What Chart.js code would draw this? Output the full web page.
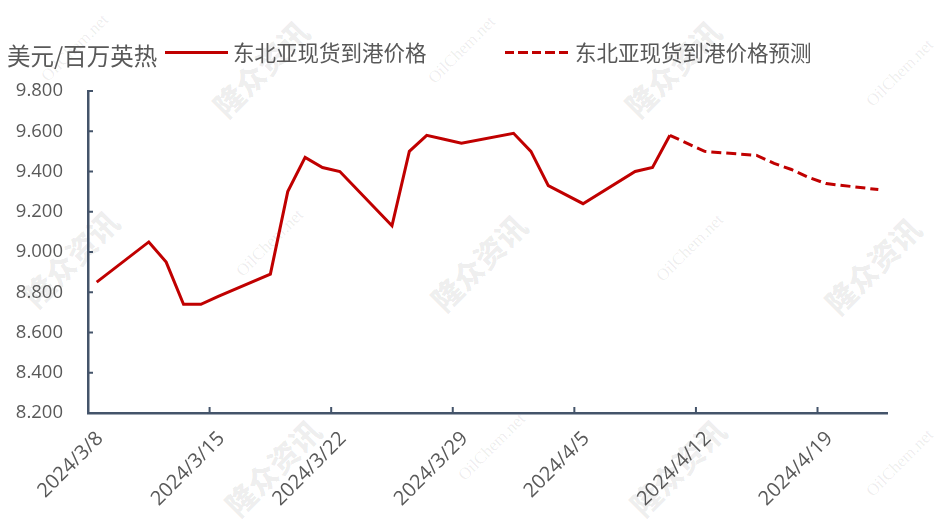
<!DOCTYPE html>
<html>
<head>
<meta charset="utf-8">
<script src="https://cdn.jsdelivr.net/npm/chart.js@4.4.1/dist/chart.umd.min.js"></script>
<style>
    html, body { margin: 0; padding: 0; background: #fff; }
    #wrap { position: relative; width: 940px; height: 531px; overflow: hidden; }
    #marks { position: absolute; left: 0; top: 0; width: 940px; height: 531px; pointer-events: none; }
    .wm { position: absolute; white-space: nowrap; transform: translate(-50%, -50%) rotate(-45deg); }
    .wm-cn { font-family: 'Noto Sans CJK SC', sans-serif; font-weight: 900; font-size: 30px; color: rgba(0,0,0,0.075); }
    .wm-en { font-family: 'Liberation Serif', serif; font-size: 17px; color: rgba(0,0,0,0.08); }
    #chartBox { position: absolute; left: 0; top: 0; width: 940px; height: 531px; }
    .txt { position: absolute; font-family: 'Noto Sans CJK SC', sans-serif; color: #595959; white-space: nowrap; line-height: 1; }
    .sample { position: absolute; height: 3px; }
</style>
</head>
<body>
<div id="wrap">
    <div id="marks"></div>
    <div id="chartBox"><canvas id="lngChart" width="940" height="531"></canvas></div>
    <div class="txt" style="left:7px; top:44px; font-size:23.5px;">美元/百万英热</div>
    <div class="sample" style="left:165px; top:51px; width:63px; background:#c00000;"></div>
    <div class="txt" style="left:233px; top:41px; font-size:21.5px;">东北亚现货到港价格</div>
    <div class="sample" style="left:505px; top:51px; width:63px; background:repeating-linear-gradient(to right, #c00000 0 9.5px, transparent 9.5px 13.4px);"></div>
    <div class="txt" style="left:575px; top:41px; font-size:21.5px;">东北亚现货到港价格预测</div>
</div>
<script>
// actual spot prices (USD/MMBtu)
const actualDates = ['2024-03-08', '2024-03-11', '2024-03-12', '2024-03-13', '2024-03-14', '2024-03-15',
    '2024-03-18', '2024-03-19', '2024-03-20', '2024-03-21', '2024-03-22',
    '2024-03-25', '2024-03-26', '2024-03-27', '2024-03-28', '2024-03-29',
    '2024-04-01', '2024-04-02', '2024-04-03', '2024-04-05',
    '2024-04-08', '2024-04-09', '2024-04-10'];
const actualValues = [8.85, 9.05, 8.95, 8.74, 8.74, 8.78,
    8.89, 9.30, 9.47, 9.42, 9.40,
    9.13, 9.50, 9.58, 9.56, 9.54,
    9.59, 9.50, 9.33, 9.24,
    9.40, 9.42, 9.58];

// forecast
const forecastDates = ['2024-04-10', '2024-04-11', '2024-04-12', '2024-04-15', '2024-04-16',
    '2024-04-17', '2024-04-18', '2024-04-19', '2024-04-22'];
const forecastValues = [9.58, 9.54, 9.50, 9.48, 9.44, 9.41, 9.37, 9.34, 9.31];

const xTickDates = ['2024-03-08', '2024-03-15', '2024-03-22', '2024-03-29', '2024-04-05', '2024-04-12', '2024-04-19'];
const xEndDate = '2024-04-23';
const yTickValues = [8.2, 8.4, 8.6, 8.8, 9.0, 9.2, 9.4, 9.6, 9.8];

const lineColor = '#c00000';
const axisColor = '#44546a';
const labelColor = '#595959';

function dayStart(d) {
    const p = d.split('-').map(Number);
    return Date.UTC(p[0], p[1] - 1, p[2]);
}
// daily values sit in the middle of their day slot
function dayMid(d) {
    return dayStart(d) + 12 * 3600 * 1000;
}
function fmtDate(v) {
    const dt = new Date(v);
    return dt.getUTCFullYear() + '/' + (dt.getUTCMonth() + 1) + '/' + dt.getUTCDate();
}

// watermark
const wmCn = [[260, 68], [672, 68], [70, 258], [478, 262], [872, 265], [272, 467], [677, 467]];
const wmEn = [[75, 48], [462, 50], [900, 73], [270, 243], [690, 248], [492, 447], [900, 463]];
const marks = document.getElementById('marks');
wmCn.forEach(p => {
    const el = document.createElement('div');
    el.className = 'wm wm-cn';
    el.style.left = p[0] + 'px';
    el.style.top = p[1] + 'px';
    el.textContent = '隆众资讯';
    marks.appendChild(el);
});
wmEn.forEach(p => {
    const el = document.createElement('div');
    el.className = 'wm wm-en';
    el.style.left = p[0] + 'px';
    el.style.top = p[1] + 'px';
    el.textContent = 'OilChem.net';
    marks.appendChild(el);
});

// small inward tick marks like the excel original
const innerTicks = {
    id: 'innerTicks',
    afterDraw(chart) {
        const { ctx, chartArea, scales } = chart;
        ctx.save();
        ctx.strokeStyle = axisColor;
        ctx.lineWidth = 2;
        ctx.beginPath();
        yTickValues.forEach(v => {
            const py = scales.y.getPixelForValue(v);
            ctx.moveTo(chartArea.left, py);
            ctx.lineTo(chartArea.left + 5, py);
        });
        xTickDates.slice(1).forEach(d => {
            const px = scales.x.getPixelForValue(dayStart(d));
            ctx.moveTo(px, chartArea.bottom);
            ctx.lineTo(px, chartArea.bottom - 6);
        });
        ctx.stroke();
        ctx.restore();
    }
};

const ctx = document.getElementById('lngChart');
new Chart(ctx, {
    type: 'line',
    data: {
        datasets: [{
            label: '东北亚现货到港价格',
            data: actualDates.map((d, i) => ({ x: dayMid(d), y: actualValues[i] })),
            borderColor: lineColor,
            borderWidth: 3,
            pointRadius: 0,
            tension: 0
        }, {
            label: '东北亚现货到港价格预测',
            data: forecastDates.map((d, i) => ({ x: dayMid(d), y: forecastValues[i] })),
            borderColor: lineColor,
            borderWidth: 3,
            borderDash: [10, 5],
            pointRadius: 0,
            tension: 0
        }]
    },
    options: {
        responsive: false,
        animation: false,
        layout: { padding: { top: 91, right: 53, left: 0, bottom: 0 } },
        plugins: {
            legend: { display: false },
            tooltip: { enabled: false }
        },
        scales: {
            x: {
                type: 'linear',
                min: dayStart(actualDates[0]),
                max: dayStart(xEndDate),
                afterBuildTicks: scale => {
                    scale.ticks = xTickDates.map(d => ({ value: dayStart(d) }));
                },
                afterFit: scale => { scale.height = 118; },
                grid: { drawOnChartArea: false, drawTicks: false, color: 'rgba(0,0,0,0)' },
                border: { display: true, color: axisColor, width: 2.5 },
                ticks: {
                    autoSkip: false,
                    maxRotation: 45,
                    minRotation: 45,
                    padding: 14,
                    labelOffset: 12,
                    color: labelColor,
                    font: { family: "'Open Sans', 'Noto Sans CJK SC', sans-serif", size: 20 },
                    callback: v => fmtDate(v)
                }
            },
            y: {
                min: 8.2,
                max: 9.8,
                afterBuildTicks: scale => {
                    scale.ticks = yTickValues.map(v => ({ value: v }));
                },
                afterFit: scale => { scale.width = 88; },
                grid: { drawOnChartArea: false, drawTicks: false, color: 'rgba(0,0,0,0)' },
                border: { display: true, color: axisColor, width: 2.5 },
                ticks: {
                    padding: 25,
                    color: labelColor,
                    font: { family: "'Open Sans', 'Noto Sans CJK SC', sans-serif", size: 18.5 },
                    callback: v => v.toFixed(3)
                }
            }
        }
    },
    plugins: [innerTicks]
});
</script>
</body>
</html>
